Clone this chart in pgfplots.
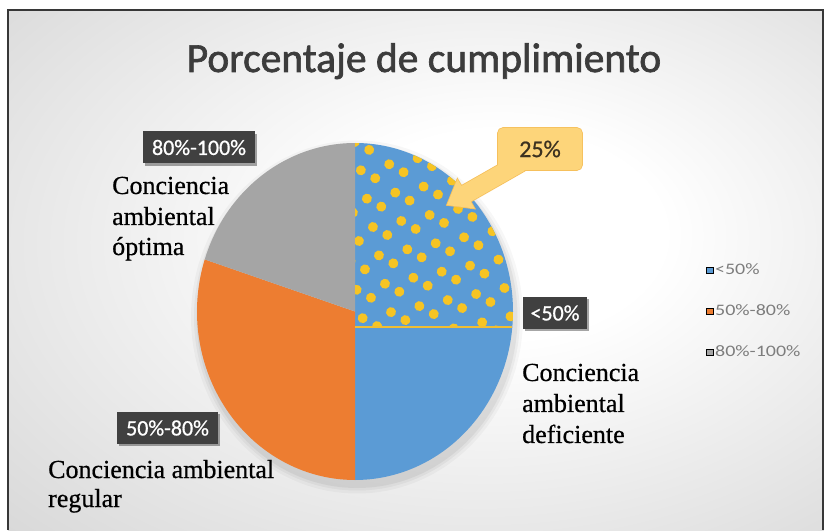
\documentclass[border=0pt]{standalone}
\usepackage{graphicx}
\usepackage{pgfplots}
\pgfplotsset{compat=1.18}
\usepackage{pgfplotstable}
\usepackage{fontspec}
\setmainfont{Liberation Serif}[FakeBold=0.6]
\newfontfamily\carlito{Carlito}
\newfontfamily\carlitoT{Carlito}[FakeBold=1.6]
\newfontfamily\carlitoL{Carlito}[FakeBold=0.8]
\usetikzlibrary{patterns.meta,shadows}

\definecolor{pieBlue}{RGB}{91,155,213}
\definecolor{pieOrange}{RGB}{237,125,49}
\definecolor{pieGray}{RGB}{165,165,165}
\definecolor{dotYellow}{RGB}{246,196,36}
\definecolor{lineYellow}{RGB}{240,190,50}
\definecolor{callFill}{RGB}{253,213,122}
\definecolor{callLine}{RGB}{246,192,92}
\definecolor{boxDark}{RGB}{64,64,64}
\definecolor{titleGray}{RGB}{60,60,60}
\definecolor{legGray}{RGB}{125,125,125}
\definecolor{bgEdge}{RGB}{210,210,210}
\definecolor{bgCorner}{RGB}{188,188,188}
\definecolor{frameGray}{RGB}{55,55,55}

\pgfdeclareradialshading{chartbg}{\pgfpoint{6bp}{4bp}}{color(0bp)=(white); color(10bp)=(white); color(44bp)=(bgEdge); color(72bp)=(bgCorner)}

% shares of the three groups (percent)
\pgfplotstableread{
slice value
0 50
1 30
2 20
}\piedata

\begin{document}
\begin{tikzpicture}[x=1pt,y=1pt]
\useasboundingbox (0,0) rectangle (824,530);

\pgfplotstablegetelem{0}{value}\of\piedata \pgfmathsetmacro{\vA}{\pgfplotsretval}
\pgfplotstablegetelem{1}{value}\of\piedata \pgfmathsetmacro{\vB}{\pgfplotsretval}
\pgfplotstablegetelem{2}{value}\of\piedata \pgfmathsetmacro{\vC}{\pgfplotsretval}
\pgfmathsetmacro{\aA}{90-3.6*\vA}
\pgfmathsetmacro{\aB}{\aA-3.6*\vB}
\pgfmathsetmacro{\aC}{\aB-3.6*\vC}
% highlighted part of the first slice ends a little below the centre
\pgfmathsetmacro{\yc}{-0.092}
\pgfmathsetmacro{\ac}{asin(\yc)}
\pgfmathsetmacro{\xc}{cos(\ac)}

% background and frame, in picture pixels (y downwards)
\begin{scope}[yshift=530pt, y=-1pt]
  \shade[shading=chartbg] (8,10) rectangle (824,530);
  \draw[frameGray, line width=1.6pt] (8,530) -- (8,10) -- (823,10) -- (823,530);
  \foreach \r/\o in {8/0.03,5/0.04,2.5/0.05}
    \fill[black, opacity=\o] (357,317) ellipse [x radius=158+\r, y radius=168.5+\r];
\end{scope}

\begin{axis}[
    at={(355pt,218.5pt)}, anchor=center,
    scale only axis, width=316pt, height=337pt,
    xmin=-1, xmax=1, ymin=-1, ymax=1,
    disabledatascaling,
    hide axis, clip=false,
    legend cell align=left,
    legend image code/.code={\fill[#1] (0pt,-3.3pt) rectangle (6.5pt,3.3pt);},
    legend style={
        at={(axis description cs:1.6108,0.6439)}, anchor=north west,
        draw=none, fill=none, inner sep=0pt,
        row sep=27pt, column sep=2pt,
        font=\carlito\fontsize{16}{16}\selectfont,
        nodes={inner sep=0pt, text height=11pt, text depth=3pt, text=legGray}
    }
]
\addlegendimage{fill=pieBlue}
\addlegendentry{\scalebox{1.25}[1]{<50\%}}
\addlegendimage{fill=pieOrange}
\addlegendentry{\scalebox{1.25}[1]{50\%-80\%}}
\addlegendimage{fill=pieGray}
\addlegendentry{\scalebox{1.25}[1]{80\%-100\%}}

\fill[pieBlue]   (0,0) -- (0,1) arc[start angle=90, end angle=\aA, x radius=1, y radius=1] -- cycle;
\fill[pieOrange] (0,0) -- ({cos(\aA)},{sin(\aA)}) arc[start angle=\aA, end angle=\aB, x radius=1, y radius=1] -- cycle;
\fill[pieGray]   (0,0) -- ({cos(\aB)},{sin(\aB)}) arc[start angle=\aB, end angle=\aC, x radius=1, y radius=1] -- cycle;

% dotted highlight
\fill[pattern={Dots[radius=5pt, distance=29pt, angle=12, xshift=4pt, yshift=6pt]}, pattern color=dotYellow]
  (0,\yc) -- (0,1) arc[start angle=90, end angle=\ac, x radius=1, y radius=1] -- cycle;
\fill[pattern={Dots[radius=5pt, distance=29pt, angle=12, xshift=18pt, yshift=20pt]}, pattern color=dotYellow]
  (0,\yc) -- (0,1) arc[start angle=90, end angle=\ac, x radius=1, y radius=1] -- cycle;
\draw[lineYellow, line width=2pt] (0,\yc) -- (\xc,\yc);
\end{axis}

\begin{scope}[yshift=530pt, y=-1pt]
  % title
  \node[font=\carlitoT\fontsize{41.5}{48}\selectfont, text=titleGray, anchor=base, inner sep=0pt]
    at (424,72) {Porcentaje de cumplimiento};

  % callout 25%
  \path[draw=callLine, line width=1.6pt]
    (515.4,155.2) -- (461.4,186.0) -- (457.4,179.1) -- (447,205) -- (474.6,208.5) -- (470.6,201.6) -- (524.6,170.8) -- cycle
    [rounded corners=5pt] (498,128) rectangle (582,170);
  \fill[callFill]
    (515.4,155.2) -- (461.4,186.0) -- (457.4,179.1) -- (447,205) -- (474.6,208.5) -- (470.6,201.6) -- (524.6,170.8) -- cycle
    [rounded corners=5pt] (498,128) rectangle (582,170);
  \node[font=\carlitoL\fontsize{24}{28}\selectfont, text={rgb,255:red,60;green,50;blue,32}] at (540,149) {25\%};

  % dark data labels
  \tikzset{darkbox/.style={fill=boxDark, text=white, font=\carlitoL\fontsize{22}{26}\selectfont,
      inner sep=0pt, minimum height=32pt,
      drop shadow={shadow xshift=2pt, shadow yshift=-2.5pt, opacity=.35, fill=black}}}
  \node[darkbox, minimum width=112pt] at (199,147.5) {80\%-100\%};
  \node[darkbox, minimum width=64pt]  at (555,313)   {<50\%};
  \node[darkbox, minimum width=101pt] at (167.5,428) {50\%-80\%};

  % serif captions
  \tikzset{sercap/.style={anchor=base west, inner sep=0pt, font=\fontsize{26}{30}\selectfont}}
  \node[sercap] at (112,194) {Conciencia};
  \node[sercap] at (112,225) {ambiental};
  \node[sercap] at (112,255) {óptima};
  \node[sercap] at (522,381) {Conciencia};
  \node[sercap] at (522,412) {ambiental};
  \node[sercap] at (522,443) {deficiente};
  \node[sercap] at (48,478)  {Conciencia ambiental};
  \node[sercap] at (48,507)  {regular};
\end{scope}
\end{tikzpicture}
\end{document}
